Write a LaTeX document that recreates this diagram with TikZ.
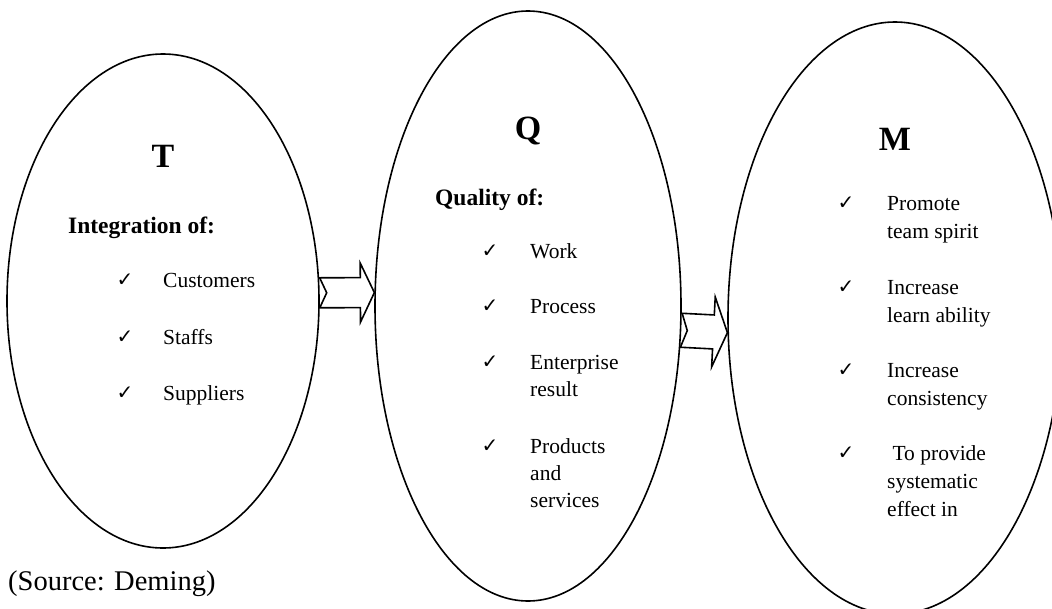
\documentclass[tikz,border=0pt]{standalone}
\usepackage{fontspec}
\setmainfont{Liberation Serif}
\newfontfamily\chkfont{DejaVu Sans}
\usetikzlibrary{shapes.geometric,calc}
% block arrow with notched tail: tail, tip, shaft half width, head half width, head length, notch depth, prefix
\newcommand\blockarrow[7]{%
  \coordinate (#7h) at ($(#2)!#5!(#1)$);
  \coordinate (#7n) at ($(#1)!#6!(#2)$);
  \draw[arrowline] ($(#1)!#3!90:(#2)$) -- ($(#7h)!#3!90:(#2)$) -- ($(#7h)!#4!90:(#2)$)
    -- (#2) -- ($(#7h)!#4!-90:(#2)$) -- ($(#7h)!#3!-90:(#2)$) -- ($(#1)!#3!-90:(#2)$)
    -- (#7n) -- cycle;}
\begin{document}
\begin{tikzpicture}[x=1pt,y=-1pt,
  oval/.style={draw, line width=1.6pt, ellipse, inner sep=0pt},
  letter/.style={font=\fontsize{34}{34}\selectfont\bfseries, inner sep=0pt, anchor=base},
  heading/.style={font=\fontsize{23.5}{28}\selectfont\bfseries, inner sep=0pt, anchor=base west},
  item/.style={font=\fontsize{21.5}{27}\selectfont, inner sep=0pt, anchor=base west},
  mitem/.style={font=\fontsize{21.5}{28}\selectfont, inner sep=0pt, anchor=base west},
  tick/.style={font=\chkfont\fontsize{20}{20}\selectfont, inner sep=0pt, anchor=base},
  source/.style={font=\fontsize{28.5}{30}\selectfont, inner sep=0pt, anchor=base west},
  arrowline/.style={draw, line width=1.6pt, line join=miter}]
\useasboundingbox (0,0) rectangle (1052,608);
\clip (0,0) rectangle (1052,608);

% ovals
\node[oval, minimum width=312pt, minimum height=494pt] (T) at (163,301) {};
\node[oval, minimum width=306pt, minimum height=590pt] (Q) at (528,306) {};
\node[oval, minimum width=334pt, minimum height=592pt] (M) at (895,318) {};

% arrows
\blockarrow{T.3}{Q.175}{15pt}{29.5pt}{14pt}{7pt}{aone}
\blockarrow{Q.-9}{M.185}{17pt}{35pt}{14pt}{6pt}{atwo}

% T
\node[letter] (Tlet) at (163,167) {T};
\node[heading] (Thead) at (68,233) {Integration of:};
\node[tick] (Tc1) at (125,286) {✓};
\node[item] (Ti1) at (163,287) {Customers};
\node[tick] (Tc2) at (125,343) {✓};
\node[item] (Ti2) at (163,344) {Staffs};
\node[tick] (Tc3) at (125,399) {✓};
\node[item] (Ti3) at (163,400) {Suppliers};

% Q
\node[letter] (Qlet) at (528,139) {Q};
\node[heading] (Qhead) at (435,205) {Quality of:};
\node[tick] (Qc1) at (490,257) {✓};
\node[item] (Qi1) at (530,258) {Work};
\node[tick] (Qc2) at (490,312) {✓};
\node[item] (Qi2) at (530,313) {Process};
\node[tick] (Qc3) at (490,368) {✓};
\node[item] (Qi3) at (530,369) {\vtop{\hbox{Enterprise}\hbox{result}}};
\node[tick] (Qc4) at (490,452) {✓};
\node[item] (Qi4) at (530,453) {\vtop{\hbox{Products}\hbox{and}\hbox{services}}};

% M
\node[letter] (Mlet) at (895,150) {M};
\node[tick] (Mc1) at (846,209) {✓};
\node[mitem] (Mi1) at (887,210) {\vtop{\hbox{Promote}\hbox{team spirit}}};
\node[tick] (Mc2) at (846,293) {✓};
\node[mitem] (Mi2) at (887,294) {\vtop{\hbox{Increase}\hbox{learn ability}}};
\node[tick] (Mc3) at (846,376) {✓};
\node[mitem] (Mi3) at (887,377) {\vtop{\hbox{Increase}\hbox{consistency}}};
\node[tick] (Mc4) at (846,459) {✓};
\node[mitem] (Mi4) at (887,460) {\vtop{\hbox{\ To provide}\hbox{systematic}\hbox{effect in}}};

% source
\node[source] (src) at (8,590) {(Source: Deming)};
\end{tikzpicture}
\end{document}
